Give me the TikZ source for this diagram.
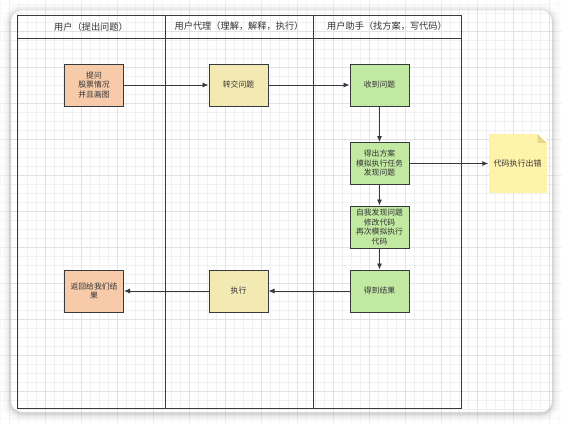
\documentclass[tikz,border=0pt]{standalone}
\usepackage{fontspec}
\newfontfamily\cjk{Noto Sans CJK SC}
\usetikzlibrary{arrows.meta,calc}
\definecolor{lineC}{HTML}{36393D}
\definecolor{txtC}{HTML}{333333}
\definecolor{peach}{HTML}{F7CBAA}
\definecolor{paleY}{HTML}{F3E9B2}
\definecolor{greenC}{HTML}{C2E9A2}
\definecolor{noteC}{HTML}{FFF3AA}
\definecolor{foldC}{HTML}{E6D68C}
\definecolor{gridMinor}{HTML}{F1F1F1}
\definecolor{gridMajor}{HTML}{E2E2E2}
\tikzset{
  box/.style={draw=lineC, line width=1pt, minimum width=59pt, minimum height=42pt,
    inner sep=1pt, align=center, font=\cjk\fontsize{7.8}{9.5}\selectfont, text=txtC},
  peachbox/.style={box, fill=peach},
  yellowbox/.style={box, fill=paleY},
  greenbox/.style={box, fill=greenC},
  notebox/.style={fill=noteC, minimum width=58pt, minimum height=59pt, inner sep=1pt,
    font=\cjk\fontsize{8}{9.5}\selectfont, text=txtC},
  header/.style={font=\cjk\fontsize{9.2}{11}\selectfont, text=txtC},
  lane/.style={draw=lineC, line width=1pt},
  flow/.style={draw=lineC, line width=0.9pt, -{Latex[length=6pt,width=5pt]}},
}
\begin{document}
\begin{tikzpicture}[x=1pt,y=-1pt]
\useasboundingbox (0,0) rectangle (562,424);
\fill[white] (0,0) rectangle (562,424);
% grid
\foreach \i in {0,...,62} {
  \pgfmathsetmacro\gx{0.3+9*\i}
  \draw[gridMinor, line width=0.8pt] (\gx,0) -- (\gx,424);
}
\foreach \i in {0,...,47} {
  \pgfmathsetmacro\gy{4.7+9*\i}
  \draw[gridMinor, line width=0.8pt] (0,\gy) -- (562,\gy);
}
\foreach \i in {0,...,15} {
  \pgfmathsetmacro\gx{9.3+36*\i}
  \draw[gridMajor, line width=0.8pt] (\gx,0) -- (\gx,424);
}
\foreach \i in {0,...,11} {
  \pgfmathsetmacro\gy{31.7+36*\i}
  \draw[gridMajor, line width=0.8pt] (0,\gy) -- (562,\gy);
}
% fade outside the card
\fill[white, opacity=0.55, even odd rule] (0,0) rectangle (562,424)
  [rounded corners=11pt] (11,10) rectangle (552,412);
% card shadow (outside only)
\foreach \d/\op in {8/0.015,6/0.02,4.5/0.025,3/0.03,2/0.035,1/0.04} {
  \fill[black, opacity=\op, even odd rule, rounded corners=11pt+\d pt]
    (11-\d,10-\d+1.5) rectangle (552+\d,412+\d+1.5)
    [rounded corners=11pt] (11,10) rectangle (552,412);
}
% pool
\draw[lane] (17,15) rectangle (461,408);
\draw[lane] (17,38) -- (461,38);
\draw[lane] (165,15) -- (165,408);
\draw[lane] (313,15) -- (313,408);
\node[header] (h1) at (91,26.5) {用户（提出问题）};
\node[header] (h2) at (239,26.5) {用户代理（理解，解释，执行）};
\node[header] (h3) at (387,26.5) {用户助手（找方案，写代码）};
% nodes
\node[peachbox] (ask) at (94,85) {提问\\股票情况\\并且画图};
\node[yellowbox] (fwd) at (238.5,85) {转交问题};
\node[greenbox] (recv) at (379.5,85) {收到问题};
\node[greenbox] (plan) at (379.5,163.5) {得出方案\\模拟执行任务\\发现问题};
\node[greenbox] (fix) at (379.5,227) {自我发现问题\\修改代码\\再次模拟执行\\代码};
\node[greenbox] (res) at (379.5,291) {得到结果};
\node[yellowbox] (exec) at (238.5,291) {执行};
\node[peachbox] (ret) at (94,291) {返回给我们结\\果};
\node[notebox] (note) at (517.5,163.5) {代码执行出错};
\fill[foldC] ($(note.north east)+(-9,0)$) -- ($(note.north east)+(0,9)$) -- ($(note.north east)+(-9,9)$) -- cycle;
\fill[white] ($(note.north east)+(-9,0)$) -- (note.north east) -- ($(note.north east)+(0,9)$) -- cycle;
% flows
\draw[flow] (ask) -- (fwd);
\draw[flow] (fwd) -- (recv);
\draw[flow] (recv) -- (plan);
\draw[flow] (plan) -- (note);
\draw[flow] (plan) -- (fix);
\draw[flow] (fix) -- (res);
\draw[flow] (res) -- (exec);
\draw[flow] (exec) -- (ret);
\end{tikzpicture}
\end{document}
